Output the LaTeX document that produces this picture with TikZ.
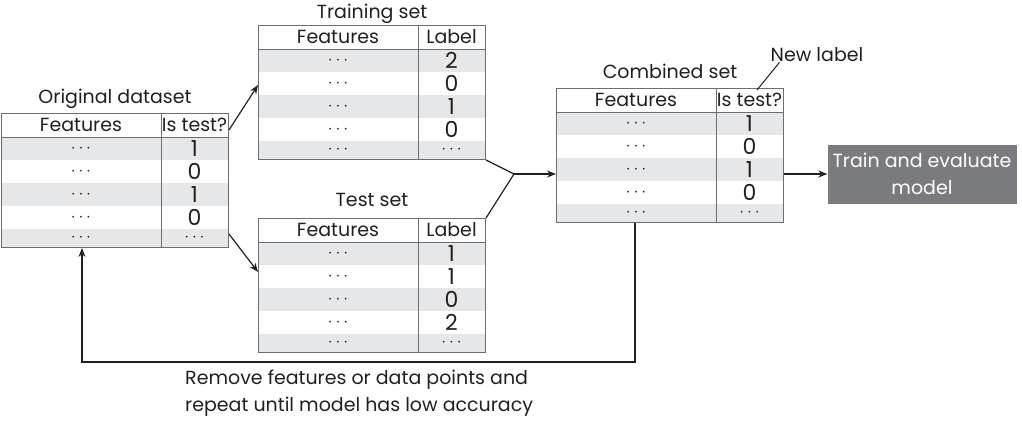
\documentclass[tikz,border=0pt]{standalone}
\usepackage{fontspec}
\setmainfont{Poppins}
\usetikzlibrary{arrows.meta,positioning}
\definecolor{inkgray}{HTML}{231F20}
\definecolor{rowgray}{HTML}{E6E7E8}
\definecolor{linegray}{HTML}{6D6E71}
\definecolor{boxgray}{HTML}{7A7B7E}
\tikzstyle{cell}=[inner sep=0pt,text=inkgray]
\tikzstyle{digit}=[inner sep=0pt,text=inkgray,font=\fontsize{22}{22}\selectfont]
\tikzstyle{title}=[inner sep=0pt,text=inkgray]
\tikzstyle{tablebox}=[draw=linegray,line width=1pt,minimum width=227pt,minimum height=134pt,inner sep=0pt]
\tikzstyle{tableline}=[draw=linegray,line width=1pt]
\tikzstyle{flow}=[draw=inkgray,line width=1.2pt,-{Stealth[length=9pt,width=7pt]}]
\tikzstyle{process}=[fill=boxgray,text=white,minimum width=189pt,minimum height=59pt,align=center,inner sep=0pt]
% table: name, left, top, second header, four values
\newcommand{\datatable}[5]{%
  \foreach \r in {0,2} \fill[rowgray] (#2,#3+24+23*\r) rectangle ++(227,23);
  \fill[rowgray] (#2,#3+116) rectangle ++(227,18);
  \node[tablebox,anchor=north west] (#1) at (#2,#3) {};
  \draw[tableline] (#2,#3+24) -- ++(227,0);
  \draw[tableline] (#2+160,#3) -- ++(0,134);
  \node[cell] (#1-h1) at (#2+80,#3+12) {Features};
  \node[cell] (#1-h2) at (#2+193.5,#3+12) {#4};
  \foreach \v [count=\i] in {#5} {
    \node[cell] (#1-f\i) at (#2+80,#3+12.5+23*\i) {$\cdots$};
    \node[digit] (#1-v\i) at (#2+193.5,#3+12.5+23*\i) {\v};
  }
  \node[cell] (#1-f5) at (#2+80,#3+125) {$\cdots$};
  \node[cell] (#1-v5) at (#2+193.5,#3+125) {$\cdots$};
}

\begin{document}
\begin{tikzpicture}[x=1pt,y=-1pt,font=\fontsize{19}{27}\selectfont]
  \useasboundingbox (0,0) rectangle (1022,424);

  \datatable{orig}{1}{113}{Is test?}{1,0,1,0}
  \datatable{train}{258}{25}{Label}{2,0,1,0}
  \datatable{test}{258}{218}{Label}{1,1,0,2}
  \datatable{comb}{556}{88}{Is test?}{1,0,1,0}

  \node[title,above=4pt of orig] (orig-title) {Original dataset};
  \node[title,above=1pt of train] (train-title) {Training set};
  \node[title,above=11pt of test] (test-title) {Test set};
  \node[title,above=9pt of comb] (comb-title) {Combined set};
  \node[title] (newlab) at (817,55) {New label};
  \draw[draw=inkgray,line width=1pt] ([xshift=9pt]newlab.south west) -- ([xshift=-27pt,yshift=-2pt]comb.north east);

  \node[process] (model) at (922,174) {Train and evaluate\\model};

  \coordinate (join) at (514,174);
  \coordinate (loop) at (360,362);

  \draw[flow] ([yshift=-17pt]orig.north east) -- ([yshift=-60pt]train.north west);
  \draw[flow] ([yshift=14pt]orig.south east) -- ([yshift=-54pt]test.north west);
  \draw[draw=inkgray,line width=1.2pt] (train.south east) -- (join) -- (test.north east);
  \draw[flow] (join) -- (join -| comb.west);
  \draw[flow] (model.west -| comb.east) -- (model);
  \draw[flow] ([xshift=-35pt]comb.south) |- (loop) -| ([xshift=-33pt]orig.south);

  \node[cell,align=left,anchor=north west] (note) at (185,370) {Remove features or data points and\\repeat until model has low accuracy};
\end{tikzpicture}
\end{document}
